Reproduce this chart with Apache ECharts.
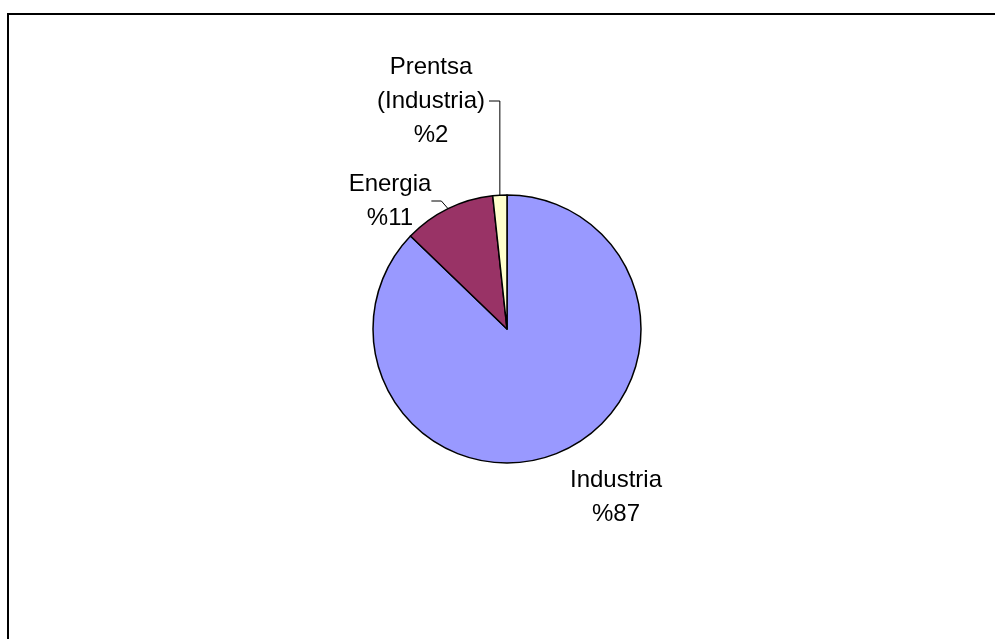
<!DOCTYPE html>
<html>
<head>
<meta charset="utf-8">
<script src="https://cdn.jsdelivr.net/npm/echarts@6/dist/echarts.min.js"></script>
<style>
html,body{margin:0;padding:0;background:#fff;}
#chart{width:995px;height:639px;}
</style>
</head>
<body>
<div id="chart"></div>
<script>
const categories = ['Industria', 'Energia', 'Prentsa\n(Industria)'];
const values = [87.2, 11.1, 1.7];
const sliceColors = ['#9999FF', '#993366', '#FFFFCC'];
const labelCenters = [[616, 497], [390, 201], [431, 101]];

const chart = echarts.init(document.getElementById('chart'), null, {renderer: 'canvas'});
chart.setOption({
  backgroundColor: '#ffffff',
  animation: false,
  graphic: [{
    type: 'rect',
    shape: {x: 8, y: 14, width: 1000, height: 700},
    style: {fill: 'none', stroke: '#000', lineWidth: 2}
  }],
  series: [{
    type: 'pie',
    center: [507, 329],
    radius: 134,
    startAngle: 90,
    clockwise: true,
    percentPrecision: 0,
    avoidLabelOverlap: false,
    itemStyle: {borderColor: '#000', borderWidth: 1.5},
    label: {
      show: true,
      position: 'outside',
      formatter: function (p) { return p.name + '\n%' + Math.round(p.value); },
      fontFamily: 'Liberation Sans, Arial, sans-serif',
      fontSize: 24,
      lineHeight: 34,
      color: '#000',
      align: 'center'
    },
    labelLine: {show: true, length: 10, length2: 10, lineStyle: {color: '#000', width: 1}},
    labelLayout: function (params) {
      const c = labelCenters[params.dataIndex];
      const out = {x: c[0], y: c[1], align: 'center', verticalAlign: 'middle'};
      if (params.dataIndex === 2 && params.labelLinePoints && params.labelLinePoints[0]) {
        const a = params.labelLinePoints[0];
        const right = params.labelRect.x + params.labelRect.width;
        out.labelLinePoints = [[a[0], a[1]], [a[0], c[1]], [c[0] + 58, c[1]]];
      }
      return out;
    },
    emphasis: {disabled: true},
    data: categories.map(function (name, i) {
      const d = {name: name, value: values[i], itemStyle: {color: sliceColors[i]}};
      if (i === 0) d.labelLine = {show: false};
      return d;
    })
  }]
});
</script>
</body>
</html>
